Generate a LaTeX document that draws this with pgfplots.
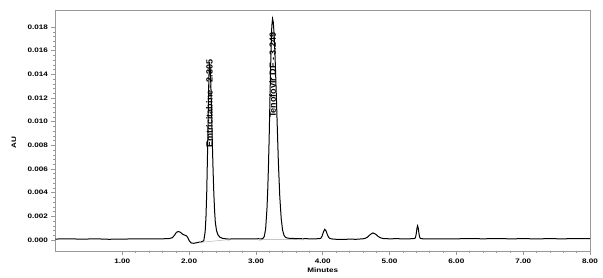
\documentclass[border=0pt]{standalone}
\usepackage{fontspec}
\usepackage{pgfplots}
\pgfplotsset{compat=1.18}
\newfontfamily\chartfont[FakeStretch=1.25]{Liberation Sans}
\newfontfamily\labfont{Liberation Sans}
\begin{document}
\begin{tikzpicture}
\begin{axis}[
  at={(0pt,0pt)}, anchor=south west,
  scale only axis, width=534.5pt, height=241pt,
  xmin=0, xmax=8, ymin=-0.00093, ymax=0.01944,
  axis line style={gray!80},
  tick align=outside, xtick pos=left, ytick pos=left,
  major tick length=4pt, minor tick length=2pt,
  tick style={gray!80, line width=0.5pt},
  xtick={1,2,3,4,5,6,7,8}, minor x tick num=4,
  ytick={0,0.002,0.004,0.006,0.008,0.010,0.012,0.014,0.016,0.018}, minor y tick num=4,
  scaled y ticks=false,
  xticklabel style={/pgf/number format/.cd, fixed, fixed zerofill, precision=2},
  yticklabel style={/pgf/number format/.cd, fixed, fixed zerofill, precision=3},
  /pgf/number format/assume math mode=true,
  ticklabel style={font=\chartfont\bfseries\fontsize{6.5}{7.5}\selectfont},
  xlabel={Minutes}, ylabel={AU},
  label style={font=\chartfont\bfseries\fontsize{6.5}{7.5}\selectfont},
  xlabel style={at={(axis description cs:0.5,-0.079)}, anchor=center},
  ylabel style={at={(axis description cs:-0.0776,0.45)}, anchor=center},
]
% integration baselines
\addplot[gray!70, line width=0.4pt, mark=triangle, mark size=1.3pt] coordinates {(2.17,-0.0002) (2.59,0.00003)};
\addplot[gray!70, line width=0.4pt, mark=triangle, mark size=1.3pt] coordinates {(3.06,0.00005) (3.70,0.00006)};
% chromatogram
\addplot[black, line width=1pt] coordinates {
(0.00,0.00008) (0.2,0.0001) (0.4,0.00007) (0.6,0.0001) (0.8,0.00006) (1.0,0.00008) (1.2,0.00009) (1.4,0.0001) (1.6,0.0001)
(1.70,0.00012) (1.75,0.0002) (1.78,0.0004) (1.81,0.00065) (1.84,0.00072) (1.87,0.00065) (1.90,0.0005) (1.93,0.00042) (1.96,0.00035) (1.98,0.0002)
(2.00,-0.00005) (2.03,-0.00025) (2.07,-0.00028) (2.12,-0.00022) (2.17,-0.00016) (2.20,-0.00012)
(2.22,-0.00005) (2.24,0.0007) (2.252,0.0019) (2.264,0.0041) (2.275,0.0072) (2.286,0.0108) (2.296,0.0138) (2.305,0.0150)
(2.315,0.0145) (2.326,0.0130) (2.337,0.0107) (2.348,0.0081) (2.359,0.0058) (2.370,0.0039) (2.381,0.0025) (2.392,0.0015)
(2.41,0.0008) (2.43,0.00045) (2.46,0.00024) (2.50,0.00014) (2.55,0.0001) (2.6,0.00008)
(2.7,0.0001) (2.8,0.00009) (2.9,0.0001) (3.0,0.0001) (3.05,0.00011) (3.085,0.0001)
(3.105,0.00014) (3.125,0.0003) (3.145,0.00092) (3.165,0.00262) (3.176,0.00412) (3.187,0.00614) (3.198,0.00862) (3.208,0.01138)
(3.218,0.01414) (3.228,0.01651) (3.238,0.01812) (3.249,0.0187) (3.260,0.0184) (3.271,0.0175) (3.282,0.01613) (3.293,0.01438)
(3.304,0.01241) (3.315,0.01036) (3.336,0.00656) (3.357,0.00366) (3.378,0.00182) (3.399,0.00083) (3.42,0.00040) (3.44,0.00024)
(3.46,0.00018) (3.5,0.00014) (3.6,0.00012) (3.7,0.00012) (3.8,0.0001) (3.9,0.0001) (3.95,0.00012)
(3.97,0.00014) (3.99,0.00032) (4.01,0.00068) (4.03,0.0009) (4.05,0.00076) (4.07,0.00043) (4.09,0.00021) (4.11,0.00012)
(4.15,0.00008) (4.2,0.00006) (4.3,0.00005) (4.4,0.00007) (4.5,0.00006) (4.6,0.0001) (4.63,0.00013)
(4.67,0.00024) (4.71,0.00046) (4.75,0.0006) (4.79,0.0005) (4.83,0.0003) (4.87,0.00017) (4.91,0.00012)
(5.0,0.0001) (5.1,0.00011) (5.2,0.0001) (5.3,0.0001) (5.38,0.00013) (5.39,0.00025) (5.40,0.00055) (5.41,0.00098) (5.42,0.0012)
(5.43,0.00098) (5.44,0.00055) (5.45,0.00025) (5.46,0.00013) (5.5,0.0001)
(5.6,0.00009) (5.8,0.0001) (6.0,0.0001) (6.2,0.00012) (6.4,0.0001) (6.6,0.00012) (6.8,0.0001) (7.0,0.00011)
(7.2,0.0001) (7.4,0.00011) (7.6,0.0001) (7.8,0.00012) (8.0,0.00012)
};
\node[rotate=90, anchor=west, inner sep=0pt, font=\labfont\bfseries\fontsize{9}{10}\selectfont] at (axis cs:2.305,0.0078) {Emtricitabine - 2.305};
\node[rotate=90, anchor=west, inner sep=0pt, font=\labfont\bfseries\fontsize{9}{10}\selectfont] at (axis cs:3.249,0.0103) {Tenofovir DF - 3.249};
\end{axis}
\pgfresetboundingbox
\path[use as bounding box] (-55.5pt,-27pt) rectangle (547.5pt,251pt);
\end{tikzpicture}
\end{document}
